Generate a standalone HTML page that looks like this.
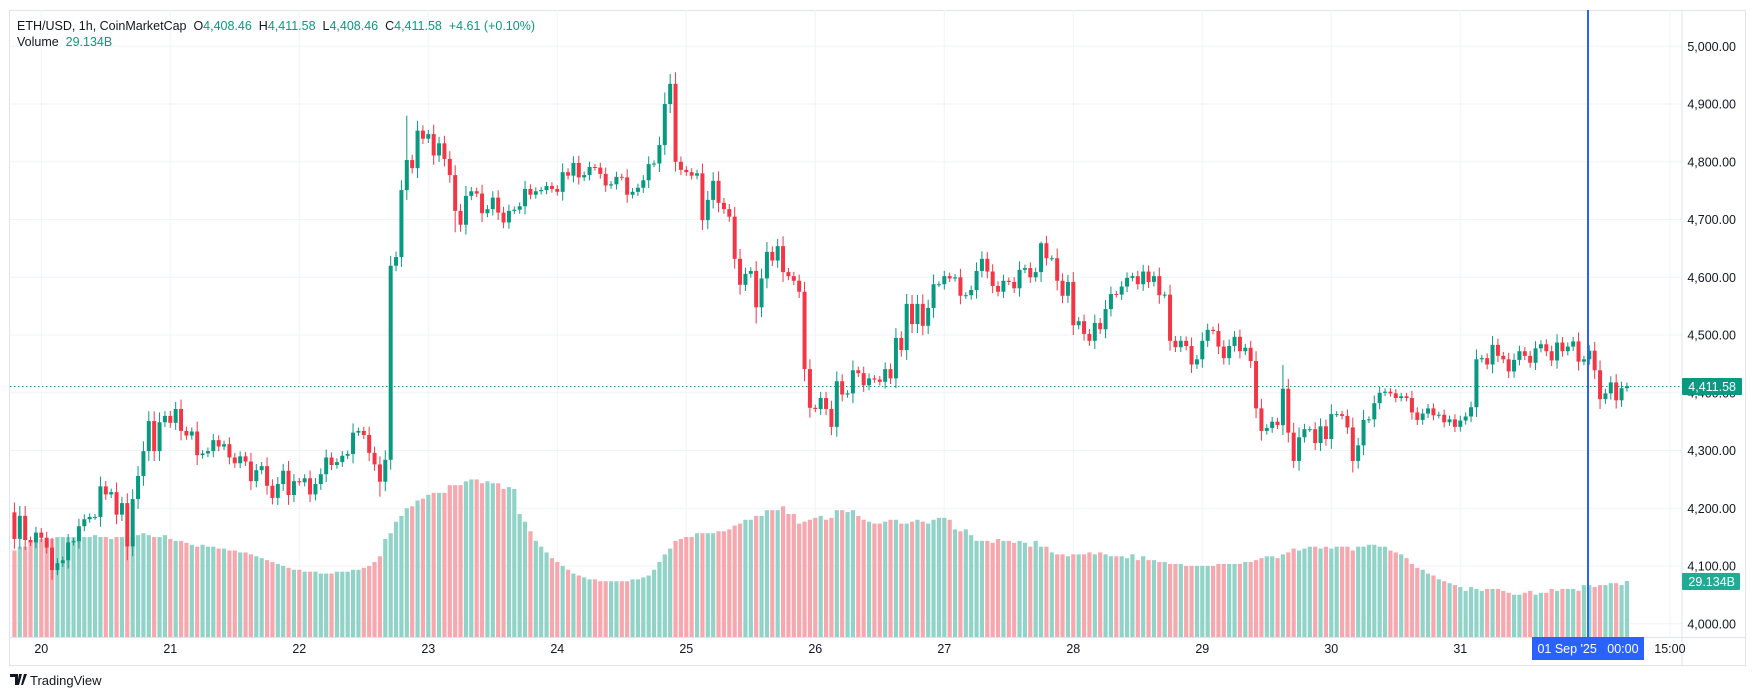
<!DOCTYPE html>
<html><head><meta charset="utf-8"><style>
html,body{margin:0;padding:0;background:#fff;}
svg{display:block;font-family:"Liberation Sans",sans-serif;}
</style></head><body>
<svg id="chart" width="1756" height="700" viewBox="0 0 1756 700" xmlns="http://www.w3.org/2000/svg">
<rect x="0" y="0" width="1756" height="700" fill="#fff"/>
<rect x="9.5" y="10.5" width="1736" height="655" fill="none" stroke="#e0e3eb"/>
<g id="grid"></g>
<g id="vol"></g>
<line x1="10" y1="386.5" x2="1682" y2="386.5" stroke="#089981" stroke-dasharray="1.5,2.5"/>
<g id="candles"></g>
<line x1="1588" y1="10" x2="1588" y2="637" stroke="#2962ff" stroke-width="2"/>
<line x1="1682" y1="10" x2="1682" y2="665" stroke="#e0e3eb"/>
<line x1="10" y1="637.5" x2="1745" y2="637.5" stroke="#e0e3eb"/>
<g id="yaxis" font-size="12.5" fill="#131722"></g>
<g id="xaxis" font-size="12.5" fill="#131722"></g>
<rect x="1532" y="637" width="112" height="23" fill="#2962ff"/>
<text x="1588" y="653" text-anchor="middle" font-size="12.5" fill="#fff" xml:space="preserve">01 Sep '25   00:00</text>
<rect x="1682" y="378" width="60" height="17" fill="#089981" rx="1"/>
<text x="1736" y="391" text-anchor="end" font-size="12.5" fill="#fff">4,411.58</text>
<rect x="1682" y="573" width="58" height="17" fill="#22ab94" rx="1"/>
<text x="1735" y="586" text-anchor="end" font-size="12.5" fill="#fff">29.134B</text>
<g font-size="12.5">
<text x="17" y="30" fill="#131722" xml:space="preserve">ETH/USD, 1h, CoinMarketCap  O<tspan fill="#089981">4,408.46</tspan>  H<tspan fill="#089981">4,411.58</tspan>  L<tspan fill="#089981">4,408.46</tspan>  C<tspan fill="#089981">4,411.58</tspan>  <tspan fill="#089981">+4.61 (+0.10%)</tspan></text>
<text x="17" y="46" fill="#131722" xml:space="preserve">Volume  <tspan fill="#089981">29.134B</tspan></text>
</g>
<g>
<path d="M10 674h8v11h-3v-8h-5z M19 674h3l-3 11h-2z M24 674h3l-4 11h-2z" fill="#131722"/>
<text x="30" y="685" font-size="13" fill="#131722">TradingView</text>
</g>
</svg>
<script>
const closes=[4147,4187,4145,4141,4158,4149,4132,4093,4105,4110,
4141,4143,4169,4181,4185,4185,4238,4224,4228,4189,
4209,4134,4216,4256,4299,4351,4299,4349,4360,4348,
4372,4334,4326,4333,4292,4295,4299,4318,4307,4311,
4288,4278,4290,4281,4247,4266,4273,4239,4218,4242,
4265,4223,4247,4245,4252,4224,4242,4259,4288,4275,
4280,4291,4294,4331,4334,4327,4296,4276,4246,4284,
4620,4635,4751,4803,4789,4854,4840,4848,4811,4832,
4805,4777,4715,4691,4741,4749,4745,4711,4718,4738,
4712,4695,4715,4717,4723,4753,4743,4749,4751,4758,
4753,4748,4782,4776,4798,4773,4777,4791,4790,4779,
4759,4761,4774,4773,4743,4748,4755,4768,4796,4797,
4829,4900,4935,4800,4786,4782,4776,4780,4699,4734,
4767,4729,4718,4705,4632,4587,4606,4611,4548,4598,
4644,4629,4654,4609,4602,4594,4575,4441,4374,4372,
4391,4372,4341,4420,4397,4399,4439,4434,4413,4425,
4423,4419,4441,4425,4495,4474,4554,4519,4554,4516,
4547,4588,4588,4602,4598,4600,4568,4569,4578,4611,
4632,4610,4585,4575,4594,4592,4581,4613,4616,4600,
4609,4659,4633,4633,4594,4568,4592,4517,4524,4502,
4490,4521,4510,4545,4571,4570,4584,4599,4602,4588,
4610,4592,4602,4569,4570,4490,4479,4490,4481,4449,
4458,4490,4509,4507,4480,4460,4481,4497,4472,4478,
4455,4373,4334,4339,4350,4344,4407,4331,4282,4323,
4337,4337,4313,4342,4320,4363,4363,4360,4340,4282,
4309,4353,4354,4382,4400,4402,4399,4391,4394,4391,
4366,4353,4364,4373,4361,4362,4349,4354,4341,4352,
4359,4375,4458,4460,4449,4483,4464,4458,4437,4457,
4472,4464,4452,4477,4484,4472,4456,4487,4472,4480,
4489,4454,4458,4473,4439,4389,4399,4418,4387,4408,4411.58];
const firstOpen=4193;
const volumes=[45,47,47,50,50,51,50,51,52,52,
52,52,51,52,52,53,52,52,51,52,
52,52,52,53,54,53,52,52,53,51,
50,50,49,48,47,48,47,47,46,46,
45,45,44,44,43,42,41,40,39,38,
37,36,35,35,34,34,34,33,33,33,
34,34,34,35,35,36,37,39,42,51,
54,60,63,67,68,71,72,74,75,75,
75,79,79,79,81,82,82,80,81,80,
80,77,78,77,64,60,55,50,47,44,
41,39,37,35,33,32,31,30,30,29,
29,29,29,29,29,30,30,31,32,35,
39,43,46,50,51,52,52,54,54,54,
54,55,55,56,58,59,61,61,63,63,
66,66,66,68,64,64,59,60,61,62,
63,61,62,66,66,65,66,63,61,60,
59,59,60,61,61,59,59,60,61,60,
59,61,62,62,61,56,55,56,53,50,
50,50,49,51,50,50,49,50,49,47,
50,47,47,44,43,43,42,43,43,43,
44,43,44,43,42,42,42,41,43,40,
42,40,40,39,39,38,38,38,37,37,
37,37,37,37,38,38,38,38,38,39,
39,40,41,42,42,41,43,44,46,45,
46,47,47,46,47,46,47,47,47,45,
47,47,48,48,47,47,45,44,43,41,
38,36,35,33,32,30,29,28,27,26,
24,26,25,24,25,25,25,24,23,22,
22,23,24,22,23,23,25,24,25,25,
25,24,27,27,26,27,27,28,28,27,29.134];
const spikeHighs=[[73,4880],[121,4920],[122,4952],[123,4955],[236,4448],[191,4662],[180,4645]];
const spikeLows=[[238,4270],[249,4262],[138,4520],[147,4420],[21,4110],[68,4220],[82,4678]];
const priceTicks=[5000,4900,4800,4700,4600,4500,4400,4300,4200,4100,4000];
const dayLabels=["20","21","22","23","24","25","26","27","28","29","30","31"];

const NS="http://www.w3.org/2000/svg";
const X=i=>41.3+(i-5)*5.375;
const Y=p=>46.3+(5000-p)*0.5775;
const VY=v=>637-v*1.922;
function mk(tag,attrs,parent){const e=document.createElementNS(NS,tag);for(const k in attrs)e.setAttribute(k,attrs[k]);parent.appendChild(e);return e;}
const grid=document.getElementById('grid'),yax=document.getElementById('yaxis'),xax=document.getElementById('xaxis');
priceTicks.forEach(p=>{
  const l=mk('line',{x1:10,x2:1682,y1:Y(p),y2:Y(p),stroke:'#f0f3fa'},grid);
  
  
  const t=mk('text',{x:1736,y:Y(p)+4.5,'text-anchor':'end'},yax);
  t.textContent=p.toLocaleString('en-US',{minimumFractionDigits:2});
  
  
});
dayLabels.forEach((d,k)=>{
  const x=X(5+k*24);
  const l=mk('line',{x1:x,x2:x,y1:10,y2:637,stroke:'#f0f3fa'},grid);
  
  
  const t=mk('text',{x:x,y:653,'text-anchor':'middle'},xax);
  t.textContent=d;
  
  
});
{const x=X(5+12*24+15);
 const l=mk('line',{x1:x,x2:x,y1:10,y2:637,stroke:'#f0f3fa'},grid);
 
 
 const t=mk('text',{x:x,y:653,'text-anchor':'middle'},xax);
 t.textContent='15:00';
 
 }
const hiMap={},loMap={};spikeHighs.forEach(a=>hiMap[a[0]]=a[1]);spikeLows.forEach(a=>loMap[a[0]]=a[1]);
const cg=document.getElementById('candles'),vg=document.getElementById('vol');
const n=closes.length;
for(let i=0;i<n;i++){
  const o=i===0?firstOpen:closes[i-1],c=closes[i];
  const up=c>=o;const col=up?'#089981':'#f23645';
  const top=Math.max(o,c),bot=Math.min(o,c);
  const w=Math.min(12,Math.abs(c-o)*0.3)+5;
  const hi=hiMap[i]||top+w,lo=loMap[i]||bot-w;
  const x=X(i);
  if(i<volumes.length){
    const vb=mk('rect',{x:x-2.1,y:VY(volumes[i]),width:4.2,height:637-VY(volumes[i]),fill:up?'#92d3c8':'#f7a8ae'},vg);
    
    
  }
  const wk=mk('line',{x1:x,x2:x,y1:Y(hi),y2:Y(lo),stroke:col,'stroke-width':1},cg);
  
  
  const b=mk('rect',{x:x-2,y:Y(top),width:4,height:Math.max(1,Y(bot)-Y(top)),fill:col},cg);
  
  
}
</script>
</body></html>
